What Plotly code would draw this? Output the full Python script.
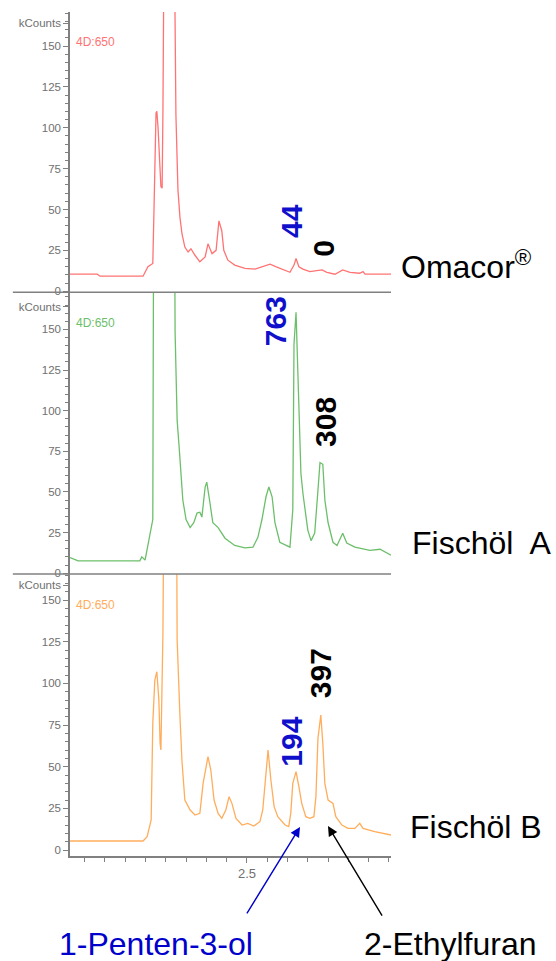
import plotly.graph_objects as go

# ---------------- data (retention time in min, signal in kCounts) ----------------
omacor_t = [2.064, 2.131, 2.138, 2.236, 2.244, 2.256, 2.268, 2.271, 2.276, 2.278,
            2.281, 2.288, 2.291, 2.293, 2.298, 2.318, 2.323, 2.325, 2.330, 2.335,
            2.340, 2.347, 2.355, 2.362, 2.372, 2.384, 2.397, 2.404, 2.414, 2.424,
            2.431, 2.438, 2.443, 2.453, 2.470, 2.495, 2.520, 2.537, 2.557, 2.571,
            2.594, 2.606, 2.616, 2.621, 2.628, 2.638, 2.655, 2.685, 2.697, 2.717,
            2.736, 2.754, 2.778, 2.786, 2.791, 2.855]
omacor_v = [10.4, 10.4, 9.2, 9.2, 9.2, 15, 17, 50, 109, 110,
            100, 64, 63, 110, 300, 300, 150, 108, 62, 45,
            35, 27, 24, 26, 22, 18, 21, 29, 23, 25,
            43, 37, 25, 19, 16, 14, 13.5, 15, 16.5, 15,
            12.5, 11.6, 16, 20, 15, 13.5, 12, 13, 11.6, 10.4,
            13, 11.5, 11, 12, 10.4, 10.4]

fischA_t = [2.064, 2.084, 2.236, 2.241, 2.249, 2.256, 2.264, 2.268, 2.271, 2.320,
            2.323, 2.328, 2.333, 2.337, 2.342, 2.350, 2.360, 2.369, 2.377, 2.384,
            2.389, 2.397, 2.401, 2.409, 2.416, 2.429, 2.446, 2.470, 2.495, 2.515,
            2.527, 2.537, 2.547, 2.554, 2.562, 2.569, 2.581, 2.606, 2.613, 2.616,
            2.621, 2.628, 2.633, 2.638, 2.645, 2.650, 2.658, 2.667, 2.675, 2.680,
            2.687, 2.692, 2.700, 2.712, 2.722, 2.736, 2.746, 2.766, 2.803, 2.828,
            2.855]
fischA_v = [9.6, 7.6, 7.6, 10, 8, 18, 28, 33, 300, 300,
            148, 94, 77.5, 61, 45, 33, 28, 31, 37, 37.5,
            34.5, 53, 56, 43, 31, 28, 21.5, 17, 15.6, 16,
            22, 33, 47, 53, 47, 31, 19, 16, 39, 141,
            160.6, 103, 61.5, 49, 34.5, 26.5, 20, 24.6, 51, 68,
            67, 45, 31, 19, 17, 24.6, 18.5, 16, 14, 14.7,
            11]

fischB_t = [2.064, 2.138, 2.163, 2.212, 2.244, 2.254, 2.264, 2.268, 2.273, 2.278,
            2.283, 2.286, 2.288, 2.293, 2.298, 2.325, 2.328, 2.335, 2.340, 2.347,
            2.360, 2.372, 2.384, 2.392, 2.404, 2.411, 2.419, 2.429, 2.438, 2.448,
            2.456, 2.463, 2.473, 2.488, 2.502, 2.517, 2.532, 2.539, 2.547, 2.552,
            2.559, 2.567, 2.576, 2.594, 2.603, 2.608, 2.613, 2.621, 2.628, 2.635,
            2.645, 2.655, 2.665, 2.670, 2.675, 2.682, 2.687, 2.692, 2.700, 2.712,
            2.719, 2.734, 2.749, 2.766, 2.778, 2.786, 2.815, 2.855]
fischB_v = [5.4, 5.4, 5.0, 5.4, 5.4, 8, 18, 76, 102, 107,
            90, 64, 60, 130, 300, 300, 126, 80, 53, 30,
            24, 21, 22, 40, 56, 48, 30, 22, 19, 24,
            32, 28, 19, 15, 16, 14.4, 17, 24, 46, 60,
            42, 26, 20, 15, 14, 22, 40, 47, 38, 28,
            20, 19, 20, 32, 67, 81, 64, 40, 30, 28,
            20, 15, 13, 13, 16, 13, 11, 9]

sample_names = ["Omacor<sup>®</sup>", "Fischöl  A", "Fischöl B"]
trace_colors = ["#ff7373", "#6cbf6a", "#ffad5c"]
channel_label = "4D:650"

y_tick_vals = [0, 25, 50, 75, 100, 125, 150]
y_tick_text = ["0", "25", "50", "75", "100", "125", "150"]
y_unit_label = "kCounts"
x_tick_vals = [2.5]
x_tick_text = ["2.5"]

# peak area labels: (text, x, y, colour, panel)
peak_labels = [
    ("44", 2.611, 43, "#1010cc", 3),
    ("0", 2.690, 26, "#000000", 3),
    ("763", 2.569, 155, "#1010cc", 2),
    ("308", 2.692, 93, "#000000", 2),
    ("194", 2.611, 65, "#1010cc", 1),
    ("397", 2.682, 106, "#000000", 1),
]
compound_names = ["1-Penten-3-ol", "2-Ethylfuran"]

FONT = "Arial, Liberation Sans, sans-serif"
XR = [2.064, 2.855]
AX = "#808080"

fig = go.Figure()
# panel 3 = top (Omacor), panel 2 = middle (A), panel 1 = bottom (B)
fig.add_trace(go.Scatter(x=omacor_t, y=omacor_v, mode="lines", xaxis="x3", yaxis="y3",
                         line=dict(color=trace_colors[0], width=1.3), showlegend=False))
fig.add_trace(go.Scatter(x=fischA_t, y=fischA_v, mode="lines", xaxis="x2", yaxis="y2",
                         line=dict(color=trace_colors[1], width=1.3), showlegend=False))
fig.add_trace(go.Scatter(x=fischB_t, y=fischB_v, mode="lines", xaxis="x", yaxis="y",
                         line=dict(color=trace_colors[2], width=1.3), showlegend=False))

def yax(domain, rng, unit_pos):
    return dict(domain=domain, range=rng, showgrid=False, zeroline=False,
                showline=True, linecolor=AX, linewidth=1.5,
                ticks="outside", ticklen=5, tickcolor=AX, tickwidth=1,
                tickvals=y_tick_vals + [unit_pos], ticktext=y_tick_text + [y_unit_label],
                tickfont=dict(family=FONT, size=11.5, color="#707070"),
                minor=dict(tickmode="linear", tick0=0, dtick=5, ticks="outside",
                           ticklen=3, tickcolor=AX, showgrid=False),
                fixedrange=True)

fig.update_layout(
    width=556, height=961,
    margin=dict(l=70, r=165, t=12, b=105),
    paper_bgcolor="white", plot_bgcolor="white",
    font=dict(family=FONT),
    xaxis=dict(domain=[0, 1], range=XR, anchor="y", showgrid=False, zeroline=False,
               showline=True, linecolor=AX, linewidth=1.5,
               ticks="outside", ticklen=5, tickcolor=AX,
               tickvals=x_tick_vals, ticktext=x_tick_text,
               tickfont=dict(family=FONT, size=13, color="#707070"),
               minor=dict(tickmode="linear", tick0=2.5, dtick=0.05, ticks="outside",
                          ticklen=4, tickcolor=AX, showgrid=False),
               fixedrange=True),
    xaxis2=dict(domain=[0, 1], range=XR, anchor="y2", visible=False),
    xaxis3=dict(domain=[0, 1], range=XR, anchor="y3", visible=False),
    yaxis=yax([0, 0.334], [-3.6, 165.6], 159),
    yaxis2=yax([0.334, 0.668], [-0.6, 172.9], 164),
    yaxis3=yax([0.668, 1.0], [-0.6, 170.8], 164),
)

# separator lines between panels
for yy in [0.334, 0.668]:
    fig.add_shape(type="line", xref="paper", yref="paper", x0=-0.178, x1=1.0,
                  y0=yy, y1=yy, line=dict(color=AX, width=1.5))

ann = []
# channel labels
for yy, c in zip([0.9645, 0.6315, 0.2974], trace_colors):
    ann.append(dict(text=channel_label, xref="paper", yref="paper", x=0.012, y=yy,
                    xanchor="left", yanchor="middle", showarrow=False,
                    font=dict(family=FONT, size=12, color=c)))
# peak numbers
for txt, px, py, col, panel in peak_labels:
    sfx = "" if panel == 1 else str(panel)
    ann.append(dict(text="<b>%s</b>" % txt, xref="x" + sfx, yref="y" + sfx, x=px, y=py,
                    textangle=-90, showarrow=False, xanchor="center", yanchor="middle",
                    font=dict(family=FONT, size=30, color=col)))
# sample names
for name, xx, yy in zip(sample_names, [1.025, 1.059, 1.053], [0.700, 0.3714, 0.0338]):
    ann.append(dict(text=name, xref="paper", yref="paper", x=xx, y=yy,
                    xanchor="left", yanchor="middle", showarrow=False,
                    font=dict(family=FONT, size=32, color="black")))
# compound names
ann.append(dict(text=compound_names[0], xref="paper", yref="paper", x=-0.0405, y=-0.1037,
                xanchor="left", yanchor="middle", showarrow=False,
                font=dict(family=FONT, size=32, color="#0000cc")))
ann.append(dict(text=compound_names[1], xref="paper", yref="paper", x=0.9097, y=-0.1037,
                xanchor="left", yanchor="middle", showarrow=False,
                font=dict(family=FONT, size=32, color="black")))
# arrows
ann.append(dict(text="", xref="paper", yref="paper", x=0.7165, y=0.0344,
                ax=-54, ay=88, axref="pixel", ayref="pixel", showarrow=True,
                arrowhead=2, arrowsize=1.4, arrowwidth=1.4, arrowcolor="#0000cc"))
ann.append(dict(text="", xref="paper", yref="paper", x=0.8037, y=0.0355,
                ax=55, ay=91, axref="pixel", ayref="pixel", showarrow=True,
                arrowhead=2, arrowsize=1.4, arrowwidth=1.4, arrowcolor="black"))
fig.update_layout(annotations=ann)

fig.write_html("out.html", config={"displayModeBar": False},
               post_script="document.body.style.margin='0';document.body.style.overflow='hidden';")
